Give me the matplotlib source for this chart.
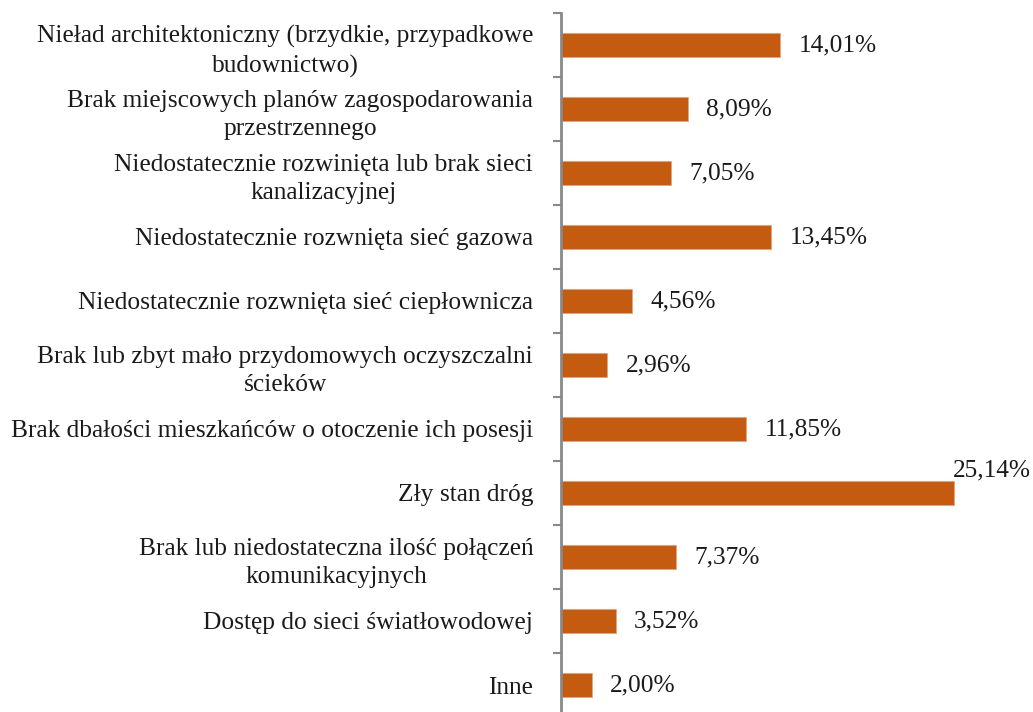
import matplotlib
matplotlib.use("Agg")
import matplotlib.pyplot as plt
import numpy as np

categories = [
    "Nieład architektoniczny (brzydkie, przypadkowe\nbudownictwo)",
    "Brak miejscowych planów zagospodarowania\nprzestrzennego",
    "Niedostatecznie rozwinięta lub brak sieci\nkanalizacyjnej",
    "Niedostatecznie rozwnięta sieć gazowa",
    "Niedostatecznie rozwnięta sieć ciepłownicza",
    "Brak lub zbyt mało przydomowych oczyszczalni\nścieków",
    "Brak dbałości mieszkańców o otoczenie ich posesji",
    "Zły stan dróg",
    "Brak lub niedostateczna ilość połączeń\nkomunikacyjnych",
    "Dostęp do sieci światłowodowej",
    "Inne",
]
values = [14.01, 8.09, 7.05, 13.45, 4.56, 2.96, 11.85, 25.14, 7.37, 3.52, 2.00]
value_labels = ["14,01%", "8,09%", "7,05%", "13,45%", "4,56%", "2,96%",
                "11,85%", "25,14%", "7,37%", "3,52%", "2,00%"]

W, H = 1033, 712
fig = plt.figure(figsize=(W / 100, H / 100), dpi=100)
ax = fig.add_axes([561 / W, -5 / H, 1 - 561 / W, 704 / H])

FONT = "Liberation Serif"
FS = 18.3
BAR = "#C55A11"

y = np.arange(len(categories))
ax.barh(y, values, height=0.39, color=BAR, edgecolor="#E9A27A", linewidth=0.6)

ax.set_xlim(0, (W - 561) / 15.65)
ax.set_ylim(len(categories) - 0.5, -0.5)

for i, (v, lab) in enumerate(zip(values, value_labels)):
    if v > 20:
        ax.annotate(lab, xy=(v, i), xytext=(-1, 16), textcoords="offset points",
                    ha="left", va="center", fontsize=FS, family=FONT, color="#1a1a1a")
    else:
        ax.annotate(lab, xy=(v, i), xytext=(13, 0), textcoords="offset points",
                    ha="left", va="center", fontsize=FS, family=FONT, color="#1a1a1a")

ax.set_yticks(y)
ax.set_yticklabels(categories, fontsize=FS, family=FONT, color="#1a1a1a",
                   multialignment="center", linespacing=1.4)
ax.tick_params(axis="y", which="major", length=0, pad=20)
ax.set_yticks(np.arange(-0.5, len(categories) + 0.5, 1), minor=True)
ax.tick_params(axis="y", which="minor", length=6, width=1.5, color="#898989")

ax.set_xticks([])
for s in ["top", "right", "bottom"]:
    ax.spines[s].set_visible(False)
ax.spines["left"].set_color("#898989")
ax.spines["left"].set_linewidth(2)

fig.savefig("out.png", dpi=100)
